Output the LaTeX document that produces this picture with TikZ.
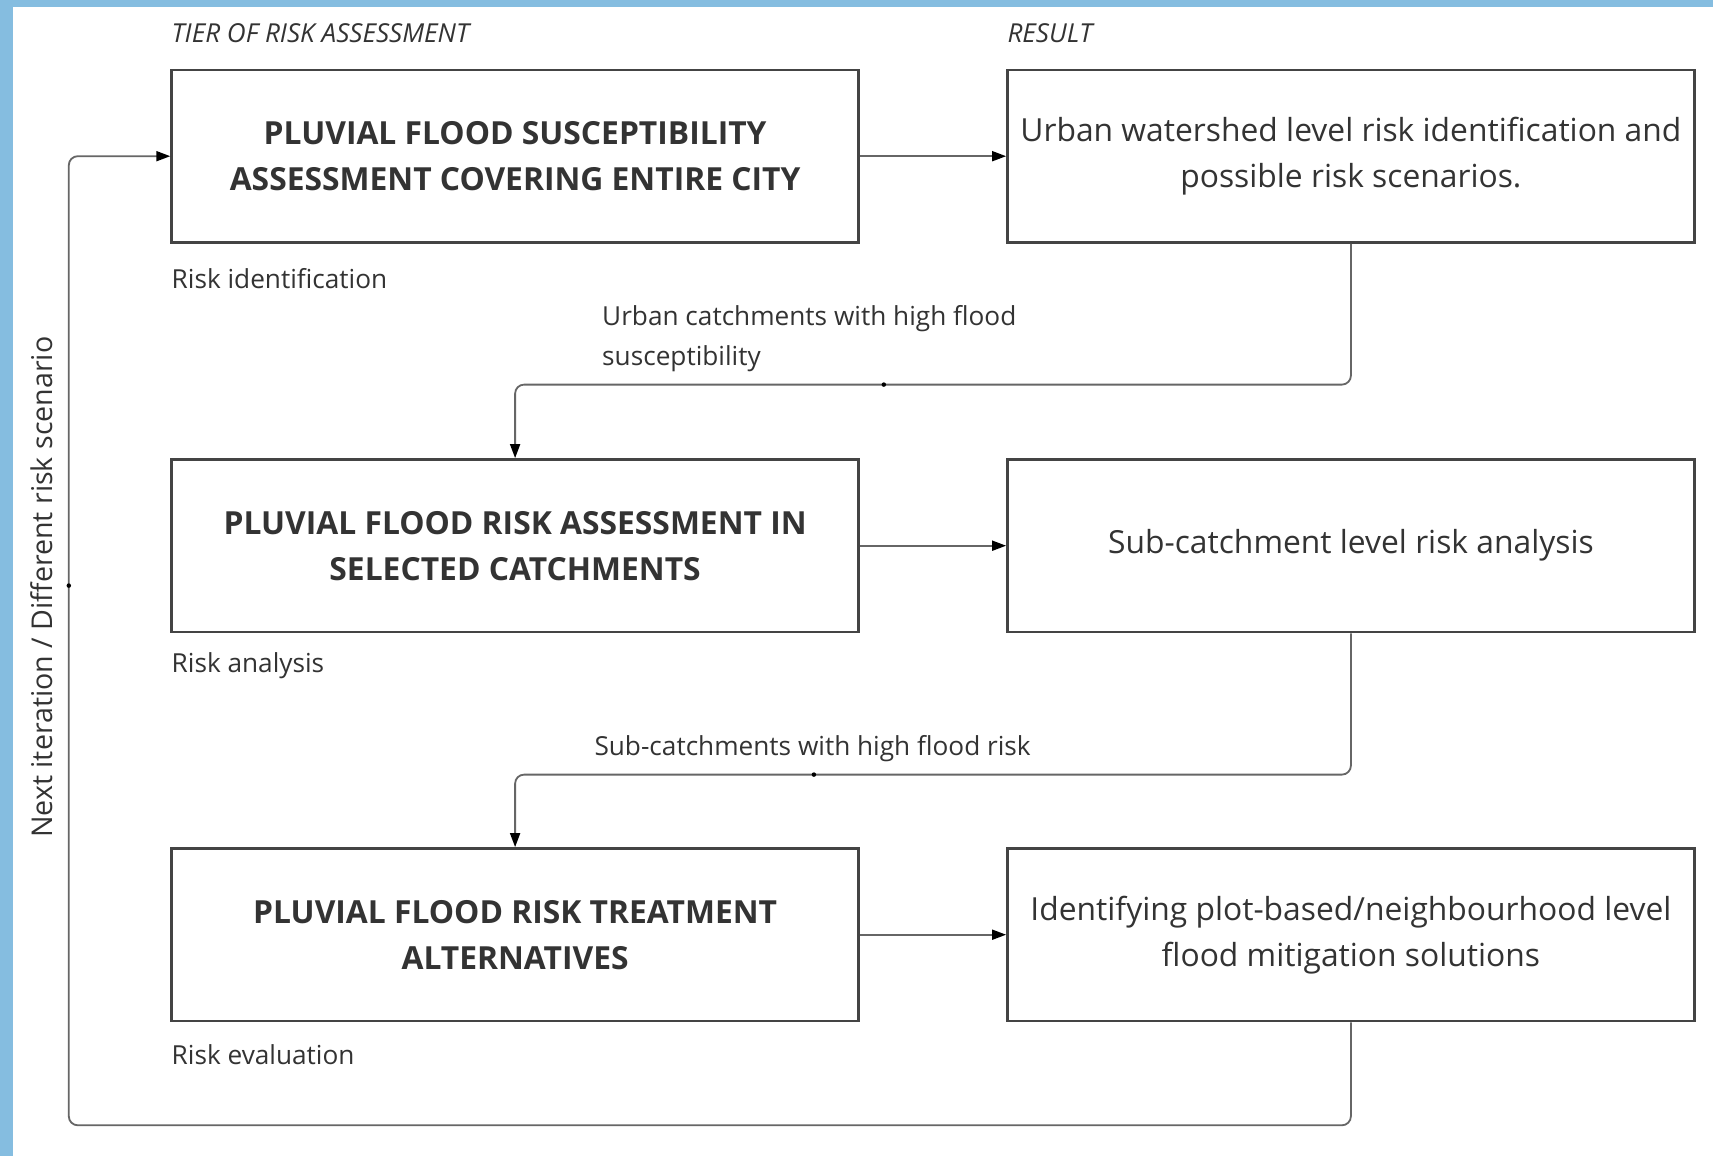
\documentclass[tikz,border=0pt]{standalone}
\usepackage{fontspec}
\setmainfont{Open Sans}
\usetikzlibrary{arrows.meta}
\definecolor{frameblue}{HTML}{85BDE0}
\definecolor{inkgray}{HTML}{333333}
\definecolor{boxline}{HTML}{444444}
\definecolor{lineGray}{HTML}{666666}
\tikzset{
  tierbox/.style={draw=boxline, line width=2.6pt, minimum width=687pt, minimum height=172.6pt,
    inner sep=0pt, align=center, text=inkgray, font=\fontsize{31.8}{46}\selectfont\bfseries,
    execute at end node={\vspace{3.6pt}}},
  resultbox/.style={draw=boxline, line width=2.6pt, minimum width=687pt, minimum height=172.6pt,
    inner sep=0pt, align=center, text=inkgray, font=\fontsize{31.8}{46}\selectfont},
  caption/.style={anchor=west, inner sep=0pt, text=inkgray, font=\fontsize{26.2}{30}\selectfont},
  header/.style={caption, font=\fontsize{26.1}{30}\selectfont\itshape},
  conn/.style={draw=lineGray, line width=1.8pt, rounded corners=9pt},
  arr/.style={conn, -{Triangle[length=14pt,width=10pt,color=black]}},
  middot/.style={circle, fill=black, inner sep=0pt, minimum size=4.5pt},
}
\begin{document}
\begin{tikzpicture}[x=1pt, y=-1pt]
  % page and frame
  \useasboundingbox (0,0) rectangle (1713,1156);
  \fill[white] (0,0) rectangle (1713,1156);
  \fill[frameblue] (0,0) rectangle (1713,7.5);
  \fill[frameblue] (0,0) rectangle (12.5,1156);

  % column headers
  \node[header] (hleft) at (171.5,32.8) {TIER OF RISK ASSESSMENT};
  \node[header] (hright) at (1007.3,32.8) {RESULT};

  % tiers
  \node[tierbox] (l1) at (515.1,156.2) {PLUVIAL FLOOD SUSCEPTIBILITY\\ASSESSMENT COVERING ENTIRE CITY};
  \node[tierbox] (l2) at (515.1,545.7) {PLUVIAL FLOOD RISK ASSESSMENT IN\\SELECTED CATCHMENTS};
  \node[tierbox] (l3) at (515.1,934.7) {PLUVIAL FLOOD RISK TREATMENT\\ALTERNATIVES};

  % results
  \node[resultbox] (r1) at (1350.9,156.2) {Urban watershed level risk identification and\\possible risk scenarios.};
  \node[resultbox] (r2) at (1350.9,545.7) {Sub-catchment level risk analysis};
  \node[resultbox] (r3) at (1350.9,934.7) {Identifying plot-based/neighbourhood level\\flood mitigation solutions};

  % tier captions
  \node[caption] (c1) at (171.5,279) {Risk identification};
  \node[caption] (c2) at (171.5,665.5) {Risk analysis};
  \node[caption] (c3) at (171.5,1054.3) {Risk evaluation};

  % tier to result
  \draw[arr] (l1.east) -- (r1.west);
  \draw[arr] (l2.east) -- (r2.west);
  \draw[arr] (l3.east) -- (r3.west);

  % result back down to the next tier
  \coordinate (h1) at (0,384.6);
  \coordinate (h2) at (0,774.6);
  \coordinate (fb) at (68.8,1125.3);
  \draw[arr] (r1.south) -- (r1.south |- h1) -- (l2.north |- h1) -- (l2.north);
  \draw[arr] (r2.south) -- (r2.south |- h2) -- (l3.north |- h2) -- (l3.north);
  \draw[arr] (r3.south) -- (r3.south |- fb) -- (fb) -- (fb |- l1.west) -- (l1.west);

  \node[middot] (d1) at (883.8,384.6) {};
  \node[middot] (d2) at (813.9,774.6) {};
  \node[middot] (d3) at (68.8,585.6) {};

  % connector labels
  \node[caption, align=left, anchor=north west, font=\fontsize{26.2}{40.4}\selectfont] (t1) at (602,305)
    {Urban catchments with high flood\\susceptibility};
  \node[caption] (t2) at (594.3,748.5) {Sub-catchments with high flood risk};
  \node[caption, anchor=center, rotate=90, font=\fontsize{28.6}{34}\selectfont] (t3) at (41.5,587.2) {Next iteration / Different risk scenario};
\end{tikzpicture}
\end{document}
